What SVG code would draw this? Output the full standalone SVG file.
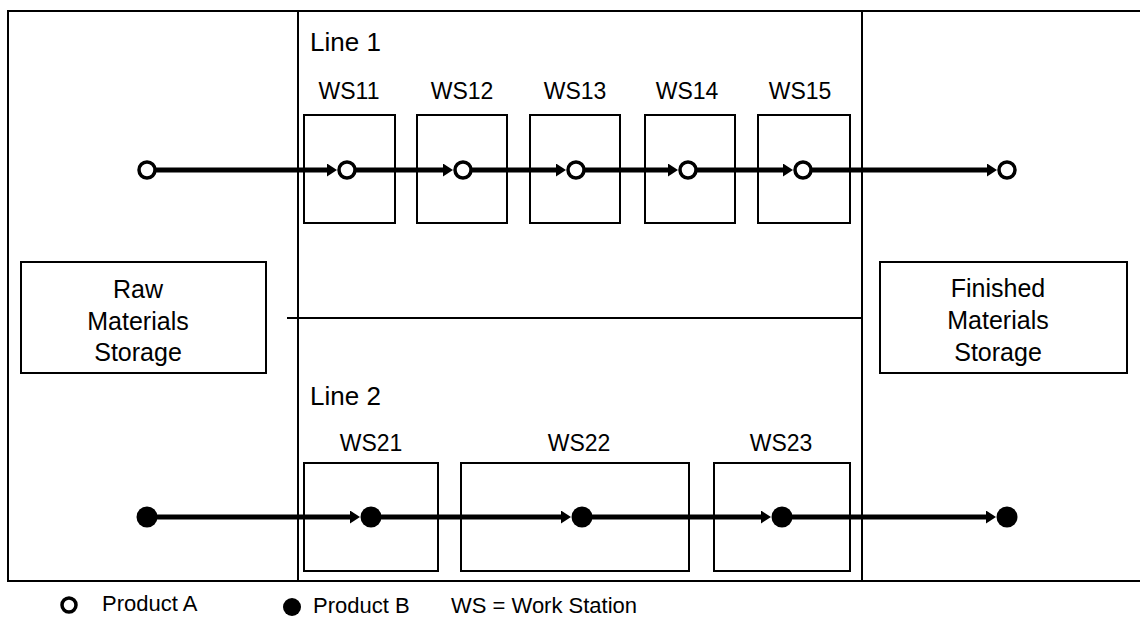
<svg xmlns="http://www.w3.org/2000/svg" width="1140" height="617" viewBox="0 0 1140 617">
<defs>
<style>
.frame{fill:none;stroke:#000;stroke-width:2}
.box{fill:none;stroke:#000;stroke-width:2}
.flow{stroke:#000;stroke-width:5;fill:none}
.t{font-family:"Liberation Sans",Arial,sans-serif;fill:#000}
.ws{font-size:23px;text-anchor:middle}
.ln{font-size:26px}
.st{font-size:25px;text-anchor:middle}
.lg{font-size:22px}
.pa{fill:#fff;stroke:#000;stroke-width:3.5}
.pb{fill:#000}
</style>
<marker id="ah" markerUnits="userSpaceOnUse" markerWidth="10" markerHeight="13" refX="5" refY="6.5" orient="auto">
<path d="M0,0 L10,6.5 L0,13 z" fill="#000"/>
</marker>
</defs>
<rect width="1140" height="617" fill="#fff"/>
<g id="frame">
<rect class="frame" x="8" y="11" width="1134" height="570"/>
<line class="frame" x1="298" y1="11" x2="298" y2="581"/>
<line class="frame" x1="862" y1="11" x2="862" y2="581"/>
<line class="frame" x1="287" y1="318" x2="862" y2="318" stroke-width="1.6"/>
<text class="t ln" x="310" y="51">Line 1</text>
<text class="t ln" x="310" y="405">Line 2</text>
</g>
<g id="raw">
<rect class="box" x="21" y="262" width="245" height="111"/>
<text class="t st" x="138" y="298">Raw</text>
<text class="t st" x="138" y="330">Materials</text>
<text class="t st" x="138" y="361">Storage</text>
</g>
<g id="finished">
<rect class="box" x="880" y="262" width="247" height="111"/>
<text class="t st" x="998" y="297">Finished</text>
<text class="t st" x="998" y="329">Materials</text>
<text class="t st" x="998" y="361">Storage</text>
</g>
<g id="ws11"><rect class="box" x="304" y="115" width="91" height="108"/><text class="t ws" x="349" y="99">WS11</text></g>
<g id="ws12"><rect class="box" x="417" y="115" width="90" height="108"/><text class="t ws" x="462" y="99">WS12</text></g>
<g id="ws13"><rect class="box" x="530" y="115" width="90" height="108"/><text class="t ws" x="575" y="99">WS13</text></g>
<g id="ws14"><rect class="box" x="645" y="115" width="90" height="108"/><text class="t ws" x="687" y="99">WS14</text></g>
<g id="ws15"><rect class="box" x="758" y="115" width="92" height="108"/><text class="t ws" x="800" y="99">WS15</text></g>
<g id="ws21"><rect class="box" x="304" y="463" width="134" height="108"/><text class="t ws" x="371" y="451">WS21</text></g>
<g id="ws22"><rect class="box" x="461" y="463" width="228" height="108"/><text class="t ws" x="579" y="451">WS22</text></g>
<g id="ws23"><rect class="box" x="714" y="463" width="136" height="108"/><text class="t ws" x="781" y="451">WS23</text></g>
<g id="connectors">
<line class="flow" x1="156" y1="170" x2="332" y2="170" marker-end="url(#ah)"/>
<line class="flow" x1="356" y1="170" x2="448" y2="170" marker-end="url(#ah)"/>
<line class="flow" x1="472" y1="170" x2="561" y2="170" marker-end="url(#ah)"/>
<line class="flow" x1="585" y1="170" x2="673" y2="170" marker-end="url(#ah)"/>
<line class="flow" x1="697" y1="170" x2="788" y2="170" marker-end="url(#ah)"/>
<line class="flow" x1="812" y1="170" x2="992" y2="170" marker-end="url(#ah)"/>
<line class="flow" x1="157" y1="517" x2="355" y2="517" marker-end="url(#ah)"/>
<line class="flow" x1="381" y1="517" x2="566" y2="517" marker-end="url(#ah)"/>
<line class="flow" x1="592" y1="517" x2="766" y2="517" marker-end="url(#ah)"/>
<line class="flow" x1="792" y1="517" x2="991" y2="517" marker-end="url(#ah)"/>
</g>
<g id="productA">
<circle class="pa" cx="147" cy="170" r="8"/>
<circle class="pa" cx="347" cy="170" r="8"/>
<circle class="pa" cx="463" cy="170" r="8"/>
<circle class="pa" cx="576" cy="170" r="8"/>
<circle class="pa" cx="688" cy="170" r="8"/>
<circle class="pa" cx="803" cy="170" r="8"/>
<circle class="pa" cx="1007" cy="170" r="8"/>
</g>
<g id="productB">
<circle class="pb" cx="147" cy="517" r="10.5"/>
<circle class="pb" cx="371" cy="517" r="10.5"/>
<circle class="pb" cx="582" cy="517" r="10.5"/>
<circle class="pb" cx="782" cy="517" r="10.5"/>
<circle class="pb" cx="1007" cy="517" r="10.5"/>
</g>
<g id="legend">
<circle class="pa" cx="69" cy="605" r="7"/>
<text class="t lg" x="102" y="611">Product A</text>
<circle class="pb" cx="292" cy="607" r="9"/>
<text class="t lg" x="313" y="613">Product B</text>
<text class="t lg" x="451" y="613">WS = Work Station</text>
</g>
</svg>
